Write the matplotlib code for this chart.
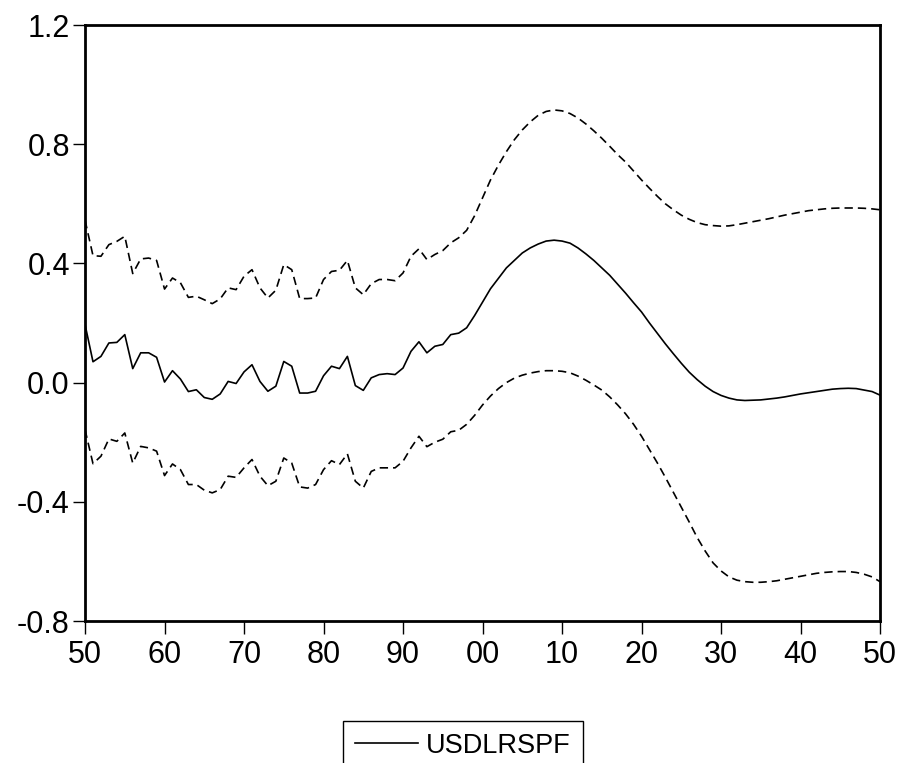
import matplotlib.pyplot as plt
import numpy as np

plt.rcParams['font.family'] = ['Liberation Sans', 'DejaVu Sans']

years = np.arange(1950, 2051)

usdlrspf = [
    0.195, 0.07, 0.088, 0.133, 0.135, 0.161, 0.047, 0.10, 0.10, 0.085,
    0.002, 0.04, 0.012, -0.03, -0.024, -0.05, -0.056, -0.038, 0.004, -0.003,
    0.036, 0.06, 0.004, -0.029, -0.012, 0.071, 0.055, -0.035, -0.035, -0.029,
    0.023, 0.055, 0.047, 0.088, -0.01, -0.026, 0.016, 0.027, 0.03, 0.027,
    0.049, 0.105, 0.137, 0.10, 0.122, 0.128, 0.161, 0.166, 0.184, 0.225,
    0.27, 0.315, 0.35, 0.385, 0.41, 0.435, 0.452, 0.465, 0.475, 0.478,
    0.475, 0.468, 0.452, 0.432, 0.41, 0.385, 0.36, 0.33, 0.30, 0.268,
    0.237, 0.20, 0.165, 0.13, 0.097, 0.065, 0.035, 0.01, -0.012, -0.03,
    -0.043, -0.052, -0.058, -0.06, -0.059, -0.058, -0.055, -0.052, -0.048, -0.043,
    -0.038, -0.034, -0.03, -0.026, -0.022, -0.02, -0.019, -0.02, -0.025, -0.03,
    -0.042,
]

upper = [
    0.545, 0.426, 0.424, 0.463, 0.474, 0.491, 0.366, 0.415, 0.418, 0.41,
    0.314, 0.351, 0.335, 0.286, 0.29, 0.278, 0.265, 0.281, 0.318, 0.312,
    0.357, 0.379, 0.318, 0.284, 0.31, 0.396, 0.379, 0.282, 0.282, 0.284,
    0.346, 0.373, 0.377, 0.41, 0.318, 0.295, 0.332, 0.346, 0.346, 0.342,
    0.368, 0.424, 0.449, 0.413, 0.43, 0.443, 0.469, 0.486, 0.511, 0.56,
    0.62, 0.68, 0.73, 0.775, 0.815, 0.848, 0.875, 0.897, 0.91, 0.915,
    0.912, 0.903, 0.888, 0.868, 0.845, 0.82, 0.793, 0.765, 0.74, 0.71,
    0.68, 0.652, 0.625, 0.60, 0.58, 0.562, 0.548, 0.537, 0.53, 0.527,
    0.525, 0.526, 0.53, 0.535, 0.54, 0.545, 0.55, 0.556, 0.562, 0.567,
    0.572, 0.577, 0.58, 0.583, 0.585, 0.586, 0.586, 0.586, 0.585, 0.583,
    0.58,
]

lower = [
    -0.158, -0.272, -0.247, -0.189, -0.197, -0.169, -0.27, -0.214, -0.219, -0.23,
    -0.312, -0.273, -0.292, -0.342, -0.342, -0.361, -0.37, -0.359, -0.314, -0.318,
    -0.286, -0.258, -0.314, -0.346, -0.331, -0.253, -0.27, -0.35, -0.354, -0.342,
    -0.292, -0.262, -0.275, -0.239, -0.331, -0.354, -0.298, -0.286, -0.286, -0.286,
    -0.264, -0.219, -0.18, -0.215, -0.20, -0.19, -0.165, -0.16, -0.14, -0.11,
    -0.075, -0.045, -0.02, 0.0, 0.015, 0.025, 0.032, 0.037, 0.04, 0.04,
    0.038, 0.033, 0.022, 0.008, -0.008, -0.025, -0.048, -0.075, -0.105, -0.14,
    -0.18, -0.225, -0.27, -0.318, -0.368, -0.418, -0.468, -0.52, -0.565, -0.605,
    -0.632, -0.652, -0.663, -0.668, -0.67, -0.67, -0.668, -0.665, -0.66, -0.655,
    -0.65, -0.645, -0.64, -0.637, -0.635, -0.634, -0.634, -0.637, -0.643, -0.652,
    -0.668,
]

xtick_years = np.arange(1950, 2051, 10)
xtick_labels = [f"{y % 100:02d}" for y in xtick_years]
ytick_values = [-0.8, -0.4, 0.0, 0.4, 0.8, 1.2]

fig = plt.figure(figsize=(8.98, 7.63), dpi=100)
ax = fig.add_axes([0.0947, 0.1861, 0.8853, 0.7811])

ax.plot(years, usdlrspf, color='black', linewidth=1.2, label='USDLRSPF')
ax.plot(years, upper, color='black', linewidth=1.2, linestyle=(0, (5, 3)))
ax.plot(years, lower, color='black', linewidth=1.2, linestyle=(0, (5, 3)))

ax.set_xlim(1950, 2050)
ax.set_ylim(-0.8, 1.2)
ax.set_xticks(xtick_years)
ax.set_xticklabels(xtick_labels)
ax.set_yticks(ytick_values)
ax.set_yticklabels([f"{v:.1f}" for v in ytick_values])

# ticks pointing out, only on left / bottom
ax.tick_params(axis='x', direction='out', length=9, width=1, labelsize=22,
               top=False, pad=5)
ax.tick_params(axis='y', direction='out', length=9, width=1, labelsize=22,
               right=False, pad=2)
for s in ax.spines.values():
    s.set_linewidth(2)

ax.legend(loc='upper center', bbox_to_anchor=(0.5156, 0.0734),
          bbox_transform=fig.transFigure, fontsize=19.5, frameon=True,
          fancybox=False, edgecolor='black', handlelength=2.3,
          handletextpad=0.3, borderpad=0.45, framealpha=1)

fig.savefig('out.png', dpi=100)
